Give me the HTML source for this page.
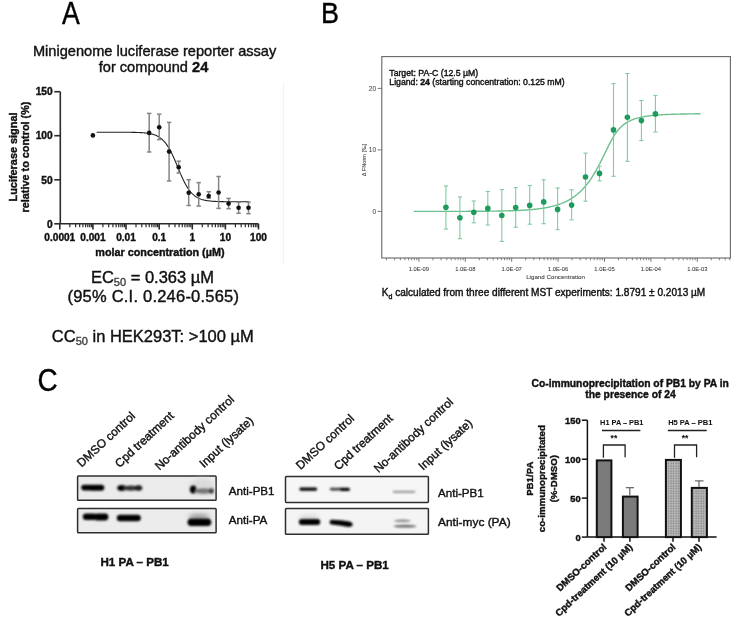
<!DOCTYPE html>
<html><head><meta charset="utf-8"><style>
html,body{margin:0;padding:0;background:#fff;}
svg{display:block;font-family:"Liberation Sans", sans-serif;filter:blur(0.4px);}

</style></head><body>
<svg width="733" height="617" viewBox="0 0 733 617">
<rect width="733" height="617" fill="#fff"/>
<text transform="translate(61.9,23.8) scale(0.86,1)" font-size="31" fill="#000" stroke="#000" stroke-width="0.4">A</text>
<text x="154.6" y="55.8" font-size="14.6" text-anchor="middle" fill="#111" stroke="#111" stroke-width="0.4">Minigenome luciferase reporter assay</text>
<text x="153.5" y="71.6" font-size="14.6" text-anchor="middle" fill="#111" stroke="#111" stroke-width="0.4">for compound <tspan font-weight="bold">24</tspan></text>
<line x1="283.5" y1="82" x2="283.5" y2="265" stroke="#f2f2f2" stroke-width="1"/>
<g stroke="#2a2a2a" stroke-width="1.6" fill="none">
<line x1="60.3" y1="91.7" x2="60.3" y2="223.8"/>
<line x1="54.3" y1="223.8" x2="60.3" y2="223.8"/>
<line x1="54.3" y1="179.8" x2="60.3" y2="179.8"/>
<line x1="54.3" y1="135.7" x2="60.3" y2="135.7"/>
<line x1="54.3" y1="91.7" x2="60.3" y2="91.7"/>
<line x1="60.3" y1="223.8" x2="258.5" y2="223.8"/>
<line x1="59.8" y1="223.8" x2="59.8" y2="229.4"/>
<line x1="69.8" y1="223.8" x2="69.8" y2="227.2" stroke-width="1.2"/>
<line x1="75.6" y1="223.8" x2="75.6" y2="227.2" stroke-width="1.2"/>
<line x1="79.7" y1="223.8" x2="79.7" y2="227.2" stroke-width="1.2"/>
<line x1="82.9" y1="223.8" x2="82.9" y2="227.2" stroke-width="1.2"/>
<line x1="85.6" y1="223.8" x2="85.6" y2="227.2" stroke-width="1.2"/>
<line x1="87.8" y1="223.8" x2="87.8" y2="227.2" stroke-width="1.2"/>
<line x1="89.7" y1="223.8" x2="89.7" y2="227.2" stroke-width="1.2"/>
<line x1="91.4" y1="223.8" x2="91.4" y2="227.2" stroke-width="1.2"/>
<line x1="92.9" y1="223.8" x2="92.9" y2="229.4"/>
<line x1="102.9" y1="223.8" x2="102.9" y2="227.2" stroke-width="1.2"/>
<line x1="108.7" y1="223.8" x2="108.7" y2="227.2" stroke-width="1.2"/>
<line x1="112.9" y1="223.8" x2="112.9" y2="227.2" stroke-width="1.2"/>
<line x1="116.1" y1="223.8" x2="116.1" y2="227.2" stroke-width="1.2"/>
<line x1="118.7" y1="223.8" x2="118.7" y2="227.2" stroke-width="1.2"/>
<line x1="120.9" y1="223.8" x2="120.9" y2="227.2" stroke-width="1.2"/>
<line x1="122.8" y1="223.8" x2="122.8" y2="227.2" stroke-width="1.2"/>
<line x1="124.5" y1="223.8" x2="124.5" y2="227.2" stroke-width="1.2"/>
<line x1="126.0" y1="223.8" x2="126.0" y2="229.4"/>
<line x1="136.0" y1="223.8" x2="136.0" y2="227.2" stroke-width="1.2"/>
<line x1="141.8" y1="223.8" x2="141.8" y2="227.2" stroke-width="1.2"/>
<line x1="146.0" y1="223.8" x2="146.0" y2="227.2" stroke-width="1.2"/>
<line x1="149.2" y1="223.8" x2="149.2" y2="227.2" stroke-width="1.2"/>
<line x1="151.8" y1="223.8" x2="151.8" y2="227.2" stroke-width="1.2"/>
<line x1="154.0" y1="223.8" x2="154.0" y2="227.2" stroke-width="1.2"/>
<line x1="156.0" y1="223.8" x2="156.0" y2="227.2" stroke-width="1.2"/>
<line x1="157.6" y1="223.8" x2="157.6" y2="227.2" stroke-width="1.2"/>
<line x1="159.2" y1="223.8" x2="159.2" y2="229.4"/>
<line x1="169.1" y1="223.8" x2="169.1" y2="227.2" stroke-width="1.2"/>
<line x1="175.0" y1="223.8" x2="175.0" y2="227.2" stroke-width="1.2"/>
<line x1="179.1" y1="223.8" x2="179.1" y2="227.2" stroke-width="1.2"/>
<line x1="182.3" y1="223.8" x2="182.3" y2="227.2" stroke-width="1.2"/>
<line x1="184.9" y1="223.8" x2="184.9" y2="227.2" stroke-width="1.2"/>
<line x1="187.1" y1="223.8" x2="187.1" y2="227.2" stroke-width="1.2"/>
<line x1="189.1" y1="223.8" x2="189.1" y2="227.2" stroke-width="1.2"/>
<line x1="190.8" y1="223.8" x2="190.8" y2="227.2" stroke-width="1.2"/>
<line x1="192.3" y1="223.8" x2="192.3" y2="229.4"/>
<line x1="202.3" y1="223.8" x2="202.3" y2="227.2" stroke-width="1.2"/>
<line x1="208.1" y1="223.8" x2="208.1" y2="227.2" stroke-width="1.2"/>
<line x1="212.2" y1="223.8" x2="212.2" y2="227.2" stroke-width="1.2"/>
<line x1="215.4" y1="223.8" x2="215.4" y2="227.2" stroke-width="1.2"/>
<line x1="218.1" y1="223.8" x2="218.1" y2="227.2" stroke-width="1.2"/>
<line x1="220.3" y1="223.8" x2="220.3" y2="227.2" stroke-width="1.2"/>
<line x1="222.2" y1="223.8" x2="222.2" y2="227.2" stroke-width="1.2"/>
<line x1="223.9" y1="223.8" x2="223.9" y2="227.2" stroke-width="1.2"/>
<line x1="225.4" y1="223.8" x2="225.4" y2="229.4"/>
<line x1="235.4" y1="223.8" x2="235.4" y2="227.2" stroke-width="1.2"/>
<line x1="241.2" y1="223.8" x2="241.2" y2="227.2" stroke-width="1.2"/>
<line x1="245.3" y1="223.8" x2="245.3" y2="227.2" stroke-width="1.2"/>
<line x1="248.5" y1="223.8" x2="248.5" y2="227.2" stroke-width="1.2"/>
<line x1="251.2" y1="223.8" x2="251.2" y2="227.2" stroke-width="1.2"/>
<line x1="253.4" y1="223.8" x2="253.4" y2="227.2" stroke-width="1.2"/>
<line x1="255.3" y1="223.8" x2="255.3" y2="227.2" stroke-width="1.2"/>
<line x1="257.0" y1="223.8" x2="257.0" y2="227.2" stroke-width="1.2"/>
<line x1="258.5" y1="223.8" x2="258.5" y2="229.4"/>
</g>
<g font-size="10.2" font-weight="bold" fill="#111" text-anchor="end" stroke="#111" stroke-width="0.4">
<text x="52.7" y="227.5">0</text>
<text x="52.7" y="183.5">50</text>
<text x="52.7" y="139.4">100</text>
<text x="52.7" y="95.4">150</text>
</g>
<g font-size="10.1" font-weight="bold" fill="#111" text-anchor="middle" stroke="#111" stroke-width="0.4">
<text x="59.8" y="240.6">0.0001</text>
<text x="92.9" y="240.6">0.001</text>
<text x="126.0" y="240.6">0.01</text>
<text x="159.2" y="240.6">0.1</text>
<text x="192.3" y="240.6">1</text>
<text x="225.4" y="240.6">10</text>
<text x="258.5" y="240.6">100</text>
</g>
<text x="159.9" y="255.6" font-size="10.8" font-weight="bold" text-anchor="middle" fill="#111" stroke="#111" stroke-width="0.4">molar concentration (µM)</text>
<text transform="translate(17,157) rotate(-90)" font-size="10.9" font-weight="bold" text-anchor="middle" fill="#111" stroke="#111" stroke-width="0.4">Luciferase signal</text>
<text transform="translate(28.5,157) rotate(-90)" font-size="10.85" font-weight="bold" text-anchor="middle" fill="#111" stroke="#111" stroke-width="0.4">relative to control (%)</text>
<polyline points="96.69,132.21 97.40,132.21 98.10,132.21 98.80,132.21 99.50,132.21 100.20,132.21 100.90,132.21 101.61,132.21 102.31,132.21 103.01,132.21 103.71,132.21 104.41,132.21 105.12,132.21 105.82,132.21 106.52,132.21 107.22,132.21 107.92,132.21 108.62,132.22 109.33,132.22 110.03,132.22 110.73,132.22 111.43,132.22 112.13,132.22 112.83,132.22 113.54,132.22 114.24,132.22 114.94,132.22 115.64,132.22 116.34,132.22 117.05,132.23 117.75,132.23 118.45,132.23 119.15,132.23 119.85,132.23 120.55,132.24 121.26,132.24 121.96,132.24 122.66,132.24 123.36,132.25 124.06,132.25 124.77,132.25 125.47,132.26 126.17,132.26 126.87,132.27 127.57,132.28 128.27,132.28 128.98,132.29 129.68,132.30 130.38,132.31 131.08,132.32 131.78,132.33 132.49,132.34 133.19,132.35 133.89,132.37 134.59,132.38 135.29,132.40 135.99,132.42 136.70,132.44 137.40,132.47 138.10,132.49 138.80,132.52 139.50,132.55 140.20,132.59 140.91,132.63 141.61,132.67 142.31,132.71 143.01,132.77 143.71,132.82 144.42,132.88 145.12,132.95 145.82,133.03 146.52,133.11 147.22,133.20 147.92,133.30 148.63,133.41 149.33,133.53 150.03,133.66 150.73,133.81 151.43,133.97 152.14,134.14 152.84,134.34 153.54,134.55 154.24,134.78 154.94,135.03 155.64,135.30 156.35,135.61 157.05,135.94 157.75,136.30 158.45,136.69 159.15,137.11 159.85,137.58 160.56,138.08 161.26,138.63 161.96,139.22 162.66,139.86 163.36,140.55 164.07,141.29 164.77,142.09 165.47,142.95 166.17,143.86 166.87,144.84 167.57,145.88 168.28,146.98 168.98,148.15 169.68,149.38 170.38,150.67 171.08,152.03 171.79,153.44 172.49,154.91 173.19,156.42 173.89,157.98 174.59,159.59 175.29,161.22 176.00,162.89 176.70,164.57 177.40,166.26 178.10,167.96 178.80,169.65 179.50,171.33 180.21,172.99 180.91,174.62 181.61,176.22 182.31,177.77 183.01,179.29 183.72,180.74 184.42,182.15 185.12,183.49 185.82,184.78 186.52,186.00 187.22,187.16 187.93,188.26 188.63,189.29 189.33,190.26 190.03,191.16 190.73,192.01 191.44,192.80 192.14,193.54 192.84,194.22 193.54,194.86 194.24,195.44 194.94,195.98 195.65,196.48 196.35,196.94 197.05,197.36 197.75,197.75 198.45,198.10 199.16,198.43 199.86,198.73 200.56,199.00 201.26,199.25 201.96,199.48 202.66,199.68 203.37,199.87 204.07,200.05 204.77,200.21 205.47,200.35 206.17,200.48 206.87,200.60 207.58,200.71 208.28,200.81 208.98,200.90 209.68,200.98 210.38,201.05 211.09,201.12 211.79,201.18 212.49,201.24 213.19,201.29 213.89,201.33 214.59,201.37 215.30,201.41 216.00,201.45 216.70,201.48 217.40,201.51 218.10,201.53 218.81,201.55 219.51,201.58 220.21,201.60 220.91,201.61 221.61,201.63 222.31,201.64 223.02,201.66 223.72,201.67 224.42,201.68 225.12,201.69 225.82,201.70 226.52,201.71 227.23,201.71 227.93,201.72 228.63,201.72 229.33,201.73 230.03,201.74 230.74,201.74 231.44,201.74 232.14,201.75 232.84,201.75 233.54,201.75 234.24,201.76 234.95,201.76 235.65,201.76 236.35,201.76 237.05,201.77 237.75,201.77 238.46,201.77 239.16,201.77 239.86,201.77 240.56,201.77 241.26,201.77 241.96,201.77 242.67,201.78 243.37,201.78 244.07,201.78 244.77,201.78 245.47,201.78 246.17,201.78 246.88,201.78 247.58,201.78 248.28,201.78 248.98,201.78" fill="none" stroke="#222" stroke-width="1.1"/>
<g stroke="#858585" stroke-width="1.5" fill="none">
<line x1="149.2" y1="113.4" x2="149.2" y2="152.0"/><line x1="147.0" y1="113.4" x2="151.4" y2="113.4"/><line x1="147.0" y1="152.0" x2="151.4" y2="152.0"/>
<line x1="159.2" y1="114.2" x2="159.2" y2="139.6"/><line x1="157.0" y1="114.2" x2="161.4" y2="114.2"/><line x1="157.0" y1="139.6" x2="161.4" y2="139.6"/>
<line x1="169.1" y1="122.4" x2="169.1" y2="181.0"/><line x1="166.9" y1="122.4" x2="171.3" y2="122.4"/><line x1="166.9" y1="181.0" x2="171.3" y2="181.0"/>
<line x1="178.7" y1="161.2" x2="178.7" y2="173.0"/><line x1="176.5" y1="161.2" x2="180.9" y2="161.2"/><line x1="176.5" y1="173.0" x2="180.9" y2="173.0"/>
<line x1="188.7" y1="179.7" x2="188.7" y2="205.5"/><line x1="186.5" y1="179.7" x2="190.9" y2="179.7"/><line x1="186.5" y1="205.5" x2="190.9" y2="205.5"/>
<line x1="198.7" y1="182.6" x2="198.7" y2="206.0"/><line x1="196.5" y1="182.6" x2="200.9" y2="182.6"/><line x1="196.5" y1="206.0" x2="200.9" y2="206.0"/>
<line x1="208.7" y1="191.7" x2="208.7" y2="198.2"/><line x1="206.5" y1="191.7" x2="210.9" y2="191.7"/><line x1="206.5" y1="198.2" x2="210.9" y2="198.2"/>
<line x1="218.6" y1="176.5" x2="218.6" y2="208.4"/><line x1="216.4" y1="176.5" x2="220.8" y2="176.5"/><line x1="216.4" y1="208.4" x2="220.8" y2="208.4"/>
<line x1="228.6" y1="198.4" x2="228.6" y2="208.7"/><line x1="226.4" y1="198.4" x2="230.8" y2="198.4"/><line x1="226.4" y1="208.7" x2="230.8" y2="208.7"/>
<line x1="238.6" y1="202.2" x2="238.6" y2="213.3"/><line x1="236.4" y1="202.2" x2="240.8" y2="202.2"/><line x1="236.4" y1="213.3" x2="240.8" y2="213.3"/>
<line x1="248.5" y1="202.2" x2="248.5" y2="213.7"/><line x1="246.3" y1="202.2" x2="250.7" y2="202.2"/><line x1="246.3" y1="213.7" x2="250.7" y2="213.7"/>
</g><g fill="#111">
<circle cx="92.9" cy="135.4" r="2.3"/>
<circle cx="149.2" cy="132.9" r="2.3"/>
<circle cx="159.2" cy="127.2" r="2.3"/>
<circle cx="169.1" cy="151.6" r="2.3"/>
<circle cx="178.7" cy="167.3" r="2.3"/>
<circle cx="188.7" cy="192.7" r="2.3"/>
<circle cx="198.7" cy="194.2" r="2.3"/>
<circle cx="208.7" cy="196.0" r="2.3"/>
<circle cx="218.6" cy="192.5" r="2.3"/>
<circle cx="228.6" cy="203.6" r="2.3"/>
<circle cx="238.6" cy="207.8" r="2.3"/>
<circle cx="248.5" cy="207.8" r="2.3"/>
</g>
<text x="152.5" y="282.5" font-size="16.5" text-anchor="middle" fill="#111" stroke="#111" stroke-width="0.4">EC<tspan font-size="11" dy="3" fill="#444" stroke="#444">50</tspan><tspan dy="-3"> = 0.363 µM</tspan></text>
<text x="67.5" y="301.7" font-size="16.5" textLength="171.5" lengthAdjust="spacing" fill="#111" stroke="#111" stroke-width="0.4">(95% C.I. 0.246-0.565)</text>
<text x="152.8" y="341.6" font-size="16.5" text-anchor="middle" fill="#111" stroke="#111" stroke-width="0.4">CC<tspan font-size="11" dy="3" fill="#444" stroke="#444">50</tspan><tspan dy="-3"> in HEK293T: &gt;100 µM</tspan></text>
<text transform="translate(321,22.6) scale(0.9,1)" font-size="30" fill="#000" stroke="#000" stroke-width="0.4">B</text>
<rect x="381.8" y="56.6" width="348.6" height="201.4" fill="none" stroke="#666" stroke-width="1.1"/>
<g stroke="#666" stroke-width="0.9">
<line x1="377.6" y1="211.4" x2="381.8" y2="211.4"/>
<line x1="377.6" y1="149.9" x2="381.8" y2="149.9"/>
<line x1="377.6" y1="88.4" x2="381.8" y2="88.4"/>
<line x1="386.5" y1="258" x2="386.5" y2="260.3" stroke-width="0.8"/>
<line x1="394.6" y1="258" x2="394.6" y2="260.3" stroke-width="0.8"/>
<line x1="400.4" y1="258" x2="400.4" y2="260.3" stroke-width="0.8"/>
<line x1="404.9" y1="258" x2="404.9" y2="260.3" stroke-width="0.8"/>
<line x1="408.6" y1="258" x2="408.6" y2="260.3" stroke-width="0.8"/>
<line x1="411.7" y1="258" x2="411.7" y2="260.3" stroke-width="0.8"/>
<line x1="414.4" y1="258" x2="414.4" y2="260.3" stroke-width="0.8"/>
<line x1="416.8" y1="258" x2="416.8" y2="260.3" stroke-width="0.8"/>
<line x1="418.9" y1="258" x2="418.9" y2="261.8"/>
<line x1="432.9" y1="258" x2="432.9" y2="260.3" stroke-width="0.8"/>
<line x1="441.0" y1="258" x2="441.0" y2="260.3" stroke-width="0.8"/>
<line x1="446.8" y1="258" x2="446.8" y2="260.3" stroke-width="0.8"/>
<line x1="451.3" y1="258" x2="451.3" y2="260.3" stroke-width="0.8"/>
<line x1="455.0" y1="258" x2="455.0" y2="260.3" stroke-width="0.8"/>
<line x1="458.1" y1="258" x2="458.1" y2="260.3" stroke-width="0.8"/>
<line x1="460.8" y1="258" x2="460.8" y2="260.3" stroke-width="0.8"/>
<line x1="463.2" y1="258" x2="463.2" y2="260.3" stroke-width="0.8"/>
<line x1="465.3" y1="258" x2="465.3" y2="261.8"/>
<line x1="479.3" y1="258" x2="479.3" y2="260.3" stroke-width="0.8"/>
<line x1="487.4" y1="258" x2="487.4" y2="260.3" stroke-width="0.8"/>
<line x1="493.2" y1="258" x2="493.2" y2="260.3" stroke-width="0.8"/>
<line x1="497.7" y1="258" x2="497.7" y2="260.3" stroke-width="0.8"/>
<line x1="501.4" y1="258" x2="501.4" y2="260.3" stroke-width="0.8"/>
<line x1="504.5" y1="258" x2="504.5" y2="260.3" stroke-width="0.8"/>
<line x1="507.2" y1="258" x2="507.2" y2="260.3" stroke-width="0.8"/>
<line x1="509.6" y1="258" x2="509.6" y2="260.3" stroke-width="0.8"/>
<line x1="511.7" y1="258" x2="511.7" y2="261.8"/>
<line x1="525.7" y1="258" x2="525.7" y2="260.3" stroke-width="0.8"/>
<line x1="533.8" y1="258" x2="533.8" y2="260.3" stroke-width="0.8"/>
<line x1="539.6" y1="258" x2="539.6" y2="260.3" stroke-width="0.8"/>
<line x1="544.1" y1="258" x2="544.1" y2="260.3" stroke-width="0.8"/>
<line x1="547.8" y1="258" x2="547.8" y2="260.3" stroke-width="0.8"/>
<line x1="550.9" y1="258" x2="550.9" y2="260.3" stroke-width="0.8"/>
<line x1="553.6" y1="258" x2="553.6" y2="260.3" stroke-width="0.8"/>
<line x1="556.0" y1="258" x2="556.0" y2="260.3" stroke-width="0.8"/>
<line x1="558.1" y1="258" x2="558.1" y2="261.8"/>
<line x1="572.1" y1="258" x2="572.1" y2="260.3" stroke-width="0.8"/>
<line x1="580.2" y1="258" x2="580.2" y2="260.3" stroke-width="0.8"/>
<line x1="586.0" y1="258" x2="586.0" y2="260.3" stroke-width="0.8"/>
<line x1="590.5" y1="258" x2="590.5" y2="260.3" stroke-width="0.8"/>
<line x1="594.2" y1="258" x2="594.2" y2="260.3" stroke-width="0.8"/>
<line x1="597.3" y1="258" x2="597.3" y2="260.3" stroke-width="0.8"/>
<line x1="600.0" y1="258" x2="600.0" y2="260.3" stroke-width="0.8"/>
<line x1="602.4" y1="258" x2="602.4" y2="260.3" stroke-width="0.8"/>
<line x1="604.5" y1="258" x2="604.5" y2="261.8"/>
<line x1="618.5" y1="258" x2="618.5" y2="260.3" stroke-width="0.8"/>
<line x1="626.6" y1="258" x2="626.6" y2="260.3" stroke-width="0.8"/>
<line x1="632.4" y1="258" x2="632.4" y2="260.3" stroke-width="0.8"/>
<line x1="636.9" y1="258" x2="636.9" y2="260.3" stroke-width="0.8"/>
<line x1="640.6" y1="258" x2="640.6" y2="260.3" stroke-width="0.8"/>
<line x1="643.7" y1="258" x2="643.7" y2="260.3" stroke-width="0.8"/>
<line x1="646.4" y1="258" x2="646.4" y2="260.3" stroke-width="0.8"/>
<line x1="648.8" y1="258" x2="648.8" y2="260.3" stroke-width="0.8"/>
<line x1="650.9" y1="258" x2="650.9" y2="261.8"/>
<line x1="664.9" y1="258" x2="664.9" y2="260.3" stroke-width="0.8"/>
<line x1="673.0" y1="258" x2="673.0" y2="260.3" stroke-width="0.8"/>
<line x1="678.8" y1="258" x2="678.8" y2="260.3" stroke-width="0.8"/>
<line x1="683.3" y1="258" x2="683.3" y2="260.3" stroke-width="0.8"/>
<line x1="687.0" y1="258" x2="687.0" y2="260.3" stroke-width="0.8"/>
<line x1="690.1" y1="258" x2="690.1" y2="260.3" stroke-width="0.8"/>
<line x1="692.8" y1="258" x2="692.8" y2="260.3" stroke-width="0.8"/>
<line x1="695.2" y1="258" x2="695.2" y2="260.3" stroke-width="0.8"/>
<line x1="697.3" y1="258" x2="697.3" y2="261.8"/>
<line x1="711.3" y1="258" x2="711.3" y2="260.3" stroke-width="0.8"/>
<line x1="719.4" y1="258" x2="719.4" y2="260.3" stroke-width="0.8"/>
<line x1="725.2" y1="258" x2="725.2" y2="260.3" stroke-width="0.8"/>
<line x1="729.7" y1="258" x2="729.7" y2="260.3" stroke-width="0.8"/>
</g>
<g font-size="6.6" fill="#444" text-anchor="end" stroke="#444" stroke-width="0.05">
<text x="376.2" y="213.8">0</text>
<text x="376.2" y="152.3">10</text>
<text x="376.2" y="90.8">20</text>
</g><g font-size="5.8" fill="#333" text-anchor="middle" stroke="#333" stroke-width="0.05">
<text x="418.9" y="270.8">1.0E-09</text>
<text x="465.3" y="270.8">1.0E-08</text>
<text x="511.7" y="270.8">1.0E-07</text>
<text x="558.1" y="270.8">1.0E-06</text>
<text x="604.5" y="270.8">1.0E-05</text>
<text x="650.9" y="270.8">1.0E-04</text>
<text x="697.3" y="270.8">1.0E-03</text>
</g>
<text x="555.6" y="278.6" font-size="6.2" text-anchor="middle" fill="#333" stroke="#333" stroke-width="0.05">Ligand Concentration</text>
<text transform="translate(365.6,160) rotate(-90)" font-size="5.6" text-anchor="middle" fill="#333" stroke="#333" stroke-width="0.05">Δ FNorm [‰]</text>
<text x="389.3" y="75.7" font-size="8.7" fill="#111" stroke="#111" stroke-width="0.4">Target: PA-C (12.5 µM)</text>
<text x="389.3" y="85.4" font-size="8.7" fill="#111" stroke="#111" stroke-width="0.4">Ligand: <tspan font-weight="bold">24</tspan> (starting concentration: 0.125 mM)</text>
<text x="381.7" y="296.3" font-size="10.08" fill="#111" stroke="#111" stroke-width="0.4">K<tspan font-size="7" dy="2.5">d</tspan><tspan dy="-2.5"> calculated from three different MST experiments: 1.8791 ± 0.2013 µM</tspan></text>
<polyline points="413.70,211.39 414.63,211.39 415.56,211.39 416.49,211.39 417.42,211.39 418.34,211.39 419.27,211.39 420.20,211.39 421.13,211.39 422.06,211.39 422.98,211.39 423.91,211.39 424.84,211.39 425.77,211.39 426.70,211.39 427.62,211.39 428.55,211.39 429.48,211.39 430.41,211.39 431.34,211.39 432.26,211.39 433.19,211.39 434.12,211.39 435.05,211.38 435.98,211.38 436.90,211.38 437.83,211.38 438.76,211.38 439.69,211.38 440.62,211.38 441.54,211.38 442.47,211.38 443.40,211.38 444.33,211.38 445.26,211.37 446.18,211.37 447.11,211.37 448.04,211.37 448.97,211.37 449.90,211.37 450.82,211.37 451.75,211.37 452.68,211.36 453.61,211.36 454.54,211.36 455.46,211.36 456.39,211.36 457.32,211.35 458.25,211.35 459.18,211.35 460.10,211.35 461.03,211.34 461.96,211.34 462.89,211.34 463.82,211.34 464.74,211.33 465.67,211.33 466.60,211.33 467.53,211.32 468.46,211.32 469.38,211.32 470.31,211.31 471.24,211.31 472.17,211.30 473.10,211.30 474.02,211.30 474.95,211.29 475.88,211.29 476.81,211.28 477.74,211.27 478.66,211.27 479.59,211.26 480.52,211.26 481.45,211.25 482.38,211.24 483.30,211.23 484.23,211.23 485.16,211.22 486.09,211.21 487.02,211.20 487.94,211.19 488.87,211.18 489.80,211.17 490.73,211.16 491.66,211.15 492.58,211.14 493.51,211.12 494.44,211.11 495.37,211.10 496.30,211.08 497.22,211.07 498.15,211.05 499.08,211.04 500.01,211.02 500.94,211.00 501.86,210.98 502.79,210.96 503.72,210.94 504.65,210.92 505.58,210.90 506.50,210.87 507.43,210.85 508.36,210.82 509.29,210.80 510.22,210.77 511.14,210.74 512.07,210.71 513.00,210.68 513.93,210.64 514.86,210.61 515.78,210.57 516.71,210.53 517.64,210.49 518.57,210.45 519.50,210.40 520.42,210.35 521.35,210.30 522.28,210.25 523.21,210.20 524.14,210.14 525.06,210.08 525.99,210.02 526.92,209.96 527.85,209.89 528.78,209.82 529.70,209.74 530.63,209.66 531.56,209.58 532.49,209.50 533.42,209.41 534.34,209.31 535.27,209.22 536.20,209.11 537.13,209.01 538.06,208.89 538.98,208.78 539.91,208.65 540.84,208.52 541.77,208.39 542.70,208.25 543.62,208.10 544.55,207.95 545.48,207.78 546.41,207.61 547.34,207.44 548.26,207.25 549.19,207.06 550.12,206.85 551.05,206.64 551.98,206.42 552.90,206.18 553.83,205.94 554.76,205.69 555.69,205.42 556.62,205.14 557.54,204.85 558.47,204.54 559.40,204.22 560.33,203.89 561.26,203.54 562.18,203.17 563.11,202.79 564.04,202.39 564.97,201.97 565.90,201.53 566.82,201.08 567.75,200.60 568.68,200.10 569.61,199.58 570.54,199.03 571.46,198.46 572.39,197.86 573.32,197.24 574.25,196.59 575.18,195.91 576.10,195.20 577.03,194.47 577.96,193.69 578.89,192.89 579.82,192.05 580.74,191.17 581.67,190.26 582.60,189.31 583.53,188.32 584.46,187.28 585.38,186.21 586.31,185.09 587.24,183.93 588.17,182.72 589.10,181.47 590.02,180.16 590.95,178.81 591.88,177.42 592.81,175.97 593.74,174.47 594.66,172.93 595.59,171.33 596.52,169.69 597.45,168.01 598.38,166.28 599.30,164.51 600.23,162.70 601.16,160.86 602.09,158.99 603.02,157.10 603.94,155.19 604.87,153.27 605.80,151.36 606.73,149.45 607.66,147.57 608.58,145.71 609.51,143.89 610.44,142.11 611.37,140.40 612.30,138.74 613.22,137.16 614.15,135.66 615.08,134.23 616.01,132.88 616.94,131.61 617.86,130.42 618.79,129.31 619.72,128.28 620.65,127.32 621.58,126.42 622.50,125.59 623.43,124.83 624.36,124.11 625.29,123.45 626.22,122.84 627.14,122.27 628.07,121.74 629.00,121.25 629.93,120.79 630.86,120.37 631.78,119.97 632.71,119.60 633.64,119.26 634.57,118.94 635.50,118.64 636.42,118.36 637.35,118.10 638.28,117.85 639.21,117.62 640.14,117.41 641.06,117.20 641.99,117.01 642.92,116.84 643.85,116.67 644.78,116.51 645.70,116.36 646.63,116.22 647.56,116.09 648.49,115.96 649.42,115.84 650.34,115.73 651.27,115.62 652.20,115.52 653.13,115.43 654.06,115.34 654.98,115.26 655.91,115.18 656.84,115.10 657.77,115.03 658.70,114.96 659.62,114.89 660.55,114.83 661.48,114.77 662.41,114.72 663.34,114.67 664.26,114.62 665.19,114.57 666.12,114.52 667.05,114.48 667.98,114.44 668.90,114.40 669.83,114.36 670.76,114.33 671.69,114.30 672.62,114.26 673.54,114.23 674.47,114.21 675.40,114.18 676.33,114.15 677.26,114.13 678.18,114.10 679.11,114.08 680.04,114.06 680.97,114.04 681.90,114.02 682.82,114.00 683.75,113.98 684.68,113.97 685.61,113.95 686.54,113.93 687.46,113.92 688.39,113.91 689.32,113.89 690.25,113.88 691.18,113.87 692.10,113.86 693.03,113.85 693.96,113.83 694.89,113.82 695.82,113.82 696.74,113.81 697.67,113.80 698.60,113.79 699.53,113.78 700.46,113.77" fill="none" stroke="#6cc08e" stroke-width="1.4"/>
<g stroke="#7fcc9f" stroke-width="1.1" fill="none">
<line x1="445.9" y1="186.0" x2="445.9" y2="229.1"/><line x1="443.8" y1="186.0" x2="448.0" y2="186.0"/><line x1="443.8" y1="229.1" x2="448.0" y2="229.1"/>
<line x1="459.9" y1="196.9" x2="459.9" y2="238.7"/><line x1="457.8" y1="196.9" x2="462.0" y2="196.9"/><line x1="457.8" y1="238.7" x2="462.0" y2="238.7"/>
<line x1="473.8" y1="201.0" x2="473.8" y2="222.8"/><line x1="471.7" y1="201.0" x2="475.9" y2="201.0"/><line x1="471.7" y1="222.8" x2="475.9" y2="222.8"/>
<line x1="487.8" y1="191.5" x2="487.8" y2="225.0"/><line x1="485.7" y1="191.5" x2="489.9" y2="191.5"/><line x1="485.7" y1="225.0" x2="489.9" y2="225.0"/>
<line x1="501.8" y1="189.5" x2="501.8" y2="241.4"/><line x1="499.7" y1="189.5" x2="503.9" y2="189.5"/><line x1="499.7" y1="241.4" x2="503.9" y2="241.4"/>
<line x1="515.7" y1="187.6" x2="515.7" y2="227.2"/><line x1="513.6" y1="187.6" x2="517.8" y2="187.6"/><line x1="513.6" y1="227.2" x2="517.8" y2="227.2"/>
<line x1="529.7" y1="185.5" x2="529.7" y2="224.2"/><line x1="527.6" y1="185.5" x2="531.8" y2="185.5"/><line x1="527.6" y1="224.2" x2="531.8" y2="224.2"/>
<line x1="543.7" y1="179.8" x2="543.7" y2="223.7"/><line x1="541.6" y1="179.8" x2="545.8" y2="179.8"/><line x1="541.6" y1="223.7" x2="545.8" y2="223.7"/>
<line x1="557.6" y1="188.0" x2="557.6" y2="229.7"/><line x1="555.5" y1="188.0" x2="559.7" y2="188.0"/><line x1="555.5" y1="229.7" x2="559.7" y2="229.7"/>
<line x1="571.6" y1="189.8" x2="571.6" y2="219.8"/><line x1="569.5" y1="189.8" x2="573.7" y2="189.8"/><line x1="569.5" y1="219.8" x2="573.7" y2="219.8"/>
<line x1="585.5" y1="153.1" x2="585.5" y2="201.2"/><line x1="583.4" y1="153.1" x2="587.6" y2="153.1"/><line x1="583.4" y1="201.2" x2="587.6" y2="201.2"/>
<line x1="599.5" y1="166.3" x2="599.5" y2="180.9"/><line x1="597.4" y1="166.3" x2="601.6" y2="166.3"/><line x1="597.4" y1="180.9" x2="601.6" y2="180.9"/>
<line x1="613.5" y1="83.6" x2="613.5" y2="176.3"/><line x1="611.4" y1="83.6" x2="615.6" y2="83.6"/><line x1="611.4" y1="176.3" x2="615.6" y2="176.3"/>
<line x1="627.4" y1="73.5" x2="627.4" y2="161.3"/><line x1="625.3" y1="73.5" x2="629.5" y2="73.5"/><line x1="625.3" y1="161.3" x2="629.5" y2="161.3"/>
<line x1="641.4" y1="100.5" x2="641.4" y2="140.6"/><line x1="639.3" y1="100.5" x2="643.5" y2="100.5"/><line x1="639.3" y1="140.6" x2="643.5" y2="140.6"/>
<line x1="655.4" y1="95.4" x2="655.4" y2="132.0"/><line x1="653.3" y1="95.4" x2="657.5" y2="95.4"/><line x1="653.3" y1="132.0" x2="657.5" y2="132.0"/>
</g><g fill="#1e9a5c">
<circle cx="445.9" cy="207.3" r="2.8"/>
<circle cx="459.9" cy="217.7" r="2.8"/>
<circle cx="473.8" cy="212.2" r="2.8"/>
<circle cx="487.8" cy="208.4" r="2.8"/>
<circle cx="501.8" cy="215.5" r="2.8"/>
<circle cx="515.7" cy="207.6" r="2.8"/>
<circle cx="529.7" cy="205.4" r="2.8"/>
<circle cx="543.7" cy="201.9" r="2.8"/>
<circle cx="557.6" cy="209.4" r="2.8"/>
<circle cx="571.6" cy="205.1" r="2.8"/>
<circle cx="585.5" cy="177.0" r="2.8"/>
<circle cx="599.5" cy="173.4" r="2.8"/>
<circle cx="613.5" cy="129.9" r="2.8"/>
<circle cx="627.4" cy="117.2" r="2.8"/>
<circle cx="641.4" cy="120.6" r="2.8"/>
<circle cx="655.4" cy="113.9" r="2.8"/>
</g>
<text transform="translate(37.6,390.5) scale(0.9,1)" font-size="31" fill="#000" stroke="#000" stroke-width="0.4">C</text>
<text transform="translate(81.4,467.8) rotate(-43)" font-size="11.9" text-anchor="start" fill="#111" stroke="#111" stroke-width="0.4">DMSO control</text>
<text transform="translate(119.5,468.2) rotate(-43)" font-size="11.9" text-anchor="start" fill="#111" stroke="#111" stroke-width="0.4">Cpd treatment</text>
<text transform="translate(159.5,470.8) rotate(-43)" font-size="11.9" text-anchor="start" fill="#111" stroke="#111" stroke-width="0.4">No-antibody control</text>
<text transform="translate(204.0,468.3) rotate(-43)" font-size="11.9" text-anchor="start" fill="#111" stroke="#111" stroke-width="0.4">Input (lysate)</text>
<text transform="translate(300.4,470.3) rotate(-43)" font-size="11.9" text-anchor="start" fill="#111" stroke="#111" stroke-width="0.4">DMSO control</text>
<text transform="translate(338.5,470.7) rotate(-43)" font-size="11.9" text-anchor="start" fill="#111" stroke="#111" stroke-width="0.4">Cpd treatment</text>
<text transform="translate(378.5,473.3) rotate(-43)" font-size="11.9" text-anchor="start" fill="#111" stroke="#111" stroke-width="0.4">No-antibody control</text>
<text transform="translate(423.0,470.8) rotate(-43)" font-size="11.9" text-anchor="start" fill="#111" stroke="#111" stroke-width="0.4">Input (lysate)</text>
<defs><filter id="bl" x="-20%" y="-50%" width="140%" height="200%"><feGaussianBlur stdDeviation="0.9"/></filter><filter id="bl3" x="-20%" y="-100%" width="140%" height="300%"><feGaussianBlur stdDeviation="0.6"/></filter><filter id="bl2" x="-20%" y="-50%" width="140%" height="200%"><feGaussianBlur stdDeviation="2"/></filter><pattern id="dots" width="2.5" height="2.5" patternUnits="userSpaceOnUse"><rect width="2.5" height="2.5" fill="#b6b6b6"/><rect x="0.5" y="0.5" width="1.2" height="1.2" fill="#7a7a7a"/></pattern></defs>
<rect x="77.6" y="476.1" width="138.5" height="24.099999999999966" rx="0.8" fill="#ebebeb" stroke="#2e2e2e" stroke-width="1.5"/>
<rect x="77.6" y="508.5" width="138.5" height="24.299999999999955" rx="0.8" fill="#ececec" stroke="#2e2e2e" stroke-width="1.5"/>
<rect x="285.5" y="476.5" width="142.89999999999998" height="25.899999999999977" rx="0.8" fill="#f6f6f6" stroke="#2e2e2e" stroke-width="1.5"/>
<rect x="285.5" y="508.5" width="142.89999999999998" height="25.700000000000045" rx="0.8" fill="#f4f4f4" stroke="#2e2e2e" stroke-width="1.5"/>
<g filter="url(#bl2)">
<ellipse cx="202" cy="487" rx="12" ry="9" fill="#d4d4d4" opacity="0.7"/>
<ellipse cx="309" cy="517" rx="10" ry="2" fill="#bbb" opacity="0.6"/>
<ellipse cx="199" cy="516.5" rx="11" ry="2.2" fill="#777" opacity="0.8"/>
</g><g filter="url(#bl)">
<rect x="81.2" y="484.80" width="11.80" height="5.6" rx="2.80" fill="#000" opacity="1"/>
<rect x="89" y="484.80" width="15.30" height="6.0" rx="3.00" fill="#000" opacity="1"/>
<ellipse cx="121.8" cy="488.0" rx="4.6" ry="3.0" fill="#000" opacity="1"/>
<ellipse cx="131" cy="488.2" rx="8" ry="2.6" fill="#333" opacity="1"/>
<ellipse cx="138.5" cy="488.0" rx="3.8" ry="2.7" fill="#1a1a1a" opacity="1"/>
<ellipse cx="193.2" cy="489.4" rx="3.3" ry="4.0" fill="#000" opacity="1"/>
<ellipse cx="203.5" cy="491" rx="8.5" ry="2.8" fill="#777" opacity="1"/>
<ellipse cx="211.3" cy="491" rx="2.6" ry="2.8" fill="#444" opacity="1"/>
<rect x="82.8" y="513.50" width="14.20" height="6.6" rx="3.30" fill="#000" opacity="1"/>
<rect x="94" y="513.60" width="14.40" height="6.8" rx="3.40" fill="#000" opacity="1"/>
<rect x="116.8" y="514.80" width="24.00" height="6.4" rx="3.20" fill="#000" opacity="1"/>
<rect x="187.5" y="518.40" width="23.80" height="7.6" rx="3.80" fill="#050505" opacity="1"/>
<rect x="299.3" y="487.50" width="17.90" height="3.2" rx="1.60" fill="#000" opacity="1"/>
<rect x="329.8" y="487.70" width="13.20" height="2.8" rx="1.40" fill="#3a3a3a" opacity="1"/>
<rect x="340" y="487.70" width="10.00" height="3.2" rx="1.60" fill="#000" opacity="1"/>
<rect x="392.8" y="490.75" width="22.50" height="2.3" rx="1.15" fill="#9a9a9a" opacity="1"/>
<rect x="298.8" y="519.10" width="21.50" height="6.0" rx="3.00" fill="#000" opacity="1"/>
<path d="M331.5,519.8 Q341,519.8 349.5,521.5 Q353.5,522.8 352.5,525.5 Q351.5,527.3 347,526.8 Q340,525.5 331.5,524.6 Q329.3,524 329.6,522 Q330,519.8 331.5,519.8 Z" fill="#000"/>
<ellipse cx="402.4" cy="520.8" rx="8.5" ry="1.2" fill="#888" opacity="1"/>
<ellipse cx="405" cy="526.2" rx="11.5" ry="1.4" fill="#666" opacity="1"/>
</g>
<g font-size="11.6" fill="#111" stroke="#111" stroke-width="0.4">
<text x="228.8" y="494.5">Anti-PB1</text><text x="228.8" y="523.5">Anti-PA</text>
<text x="438" y="496.8">Anti-PB1</text><text x="438" y="526" textLength="72.6" lengthAdjust="spacingAndGlyphs">Anti-myc (PA)</text>
</g>
<text x="100.5" y="566.2" font-size="11.6" font-weight="bold" fill="#111" stroke="#111" stroke-width="0.4">H1 PA – PB1</text>
<text x="320.5" y="568.6" font-size="11.6" font-weight="bold" fill="#111" stroke="#111" stroke-width="0.4">H5 PA – PB1</text>
<text x="630.2" y="386.6" font-size="10.3" font-weight="bold" text-anchor="middle" fill="#111" stroke="#111" stroke-width="0.4">Co-immunoprecipitation of PB1 by PA in</text>
<text x="630.5" y="398.2" font-size="10.3" font-weight="bold" text-anchor="middle" fill="#111" stroke="#111" stroke-width="0.4">the presence of 24</text>
<g stroke="#111" stroke-width="1.5" fill="none">
<line x1="587.4" y1="420.2" x2="587.4" y2="537.1"/>
<line x1="581.8" y1="537.1" x2="587.4" y2="537.1"/>
<line x1="581.8" y1="498.1" x2="587.4" y2="498.1"/>
<line x1="581.8" y1="459.2" x2="587.4" y2="459.2"/>
<line x1="581.8" y1="420.2" x2="587.4" y2="420.2"/>
<line x1="587.4" y1="537.1" x2="716.6" y2="537.1"/>
<line x1="604" y1="537.1" x2="604" y2="541.8"/>
<line x1="629.9" y1="537.1" x2="629.9" y2="541.8"/>
<line x1="673" y1="537.1" x2="673" y2="541.8"/>
<line x1="699" y1="537.1" x2="699" y2="541.8"/>
</g>
<g font-size="9.3" font-weight="bold" fill="#111" text-anchor="end" stroke="#111" stroke-width="0.4">
<text x="580.6" y="540.5">0</text>
<text x="580.6" y="501.5">50</text>
<text x="580.6" y="462.6">100</text>
<text x="580.6" y="423.6">150</text>
</g>
<text transform="translate(533.2,478.7) rotate(-90)" font-size="9.7" font-weight="bold" text-anchor="middle" fill="#111" stroke="#111" stroke-width="0.4">PB1/PA</text>
<text transform="translate(544.6,478.7) rotate(-90)" font-size="9.7" font-weight="bold" text-anchor="middle" fill="#111" stroke="#111" stroke-width="0.4">co-immunoprecipitated</text>
<text transform="translate(556.6,478.7) rotate(-90)" font-size="9.7" font-weight="bold" text-anchor="middle" fill="#111" stroke="#111" stroke-width="0.4">(%-DMSO)</text>
<rect x="596.8" y="460.4" width="14.600000000000023" height="76.70000000000005" fill="#7b7b7b" stroke="#111" stroke-width="2"/>
<rect x="622.9" y="496.6" width="14.700000000000045" height="40.5" fill="#7b7b7b" stroke="#111" stroke-width="2"/>
<rect x="665.9" y="459.9" width="15.0" height="77.20000000000005" fill="url(#dots)" stroke="#111" stroke-width="2"/>
<rect x="691.8" y="487.9" width="15.100000000000023" height="49.200000000000045" fill="url(#dots)" stroke="#111" stroke-width="2"/>
<g stroke="#111" stroke-width="1.5" fill="none">
<g stroke="#555" stroke-width="1.1"><line x1="629.8" y1="495.5" x2="629.8" y2="487.7"/><line x1="625.8" y1="487.7" x2="634" y2="487.7"/>
<line x1="699" y1="487.1" x2="699" y2="480.9"/><line x1="694.9" y1="480.9" x2="703.5" y2="480.9"/></g>
<g stroke="#222" stroke-width="1.3"><polyline points="603.4,457.7 603.4,445 625.1,445 625.1,457.3"/>
<polyline points="674.5,457.7 674.5,445 696.6,445 696.6,457.3"/>
<line x1="601.9" y1="430.5" x2="640.4" y2="430.5"/><line x1="667.8" y1="430.5" x2="706.7" y2="430.5"/></g>
</g>
<g font-size="7.2" font-weight="bold" fill="#111" stroke="#111" stroke-width="0.05">
<text x="600.1" y="424.8" textLength="43.3" lengthAdjust="spacingAndGlyphs">H1 PA – PB1</text><text x="668.2" y="424.8" textLength="44.2" lengthAdjust="spacingAndGlyphs">H5 PA – PB1</text>
<text x="613.9" y="441.2" font-size="8.5" text-anchor="middle">**</text><text x="685" y="441.2" font-size="8.5" text-anchor="middle">**</text>
</g>
<text transform="translate(607.2,547.8) rotate(-43)" font-size="9.6" font-weight="bold" text-anchor="end" fill="#111" stroke="#111" stroke-width="0.4">DMSO-control</text>
<text transform="translate(633.1,547.8) rotate(-43)" font-size="9.6" font-weight="bold" text-anchor="end" fill="#111" stroke="#111" stroke-width="0.4">Cpd-treatment (10 µM)</text>
<text transform="translate(676.2,547.8) rotate(-43)" font-size="9.6" font-weight="bold" text-anchor="end" fill="#111" stroke="#111" stroke-width="0.4">DMSO-control</text>
<text transform="translate(702.2,547.8) rotate(-43)" font-size="9.6" font-weight="bold" text-anchor="end" fill="#111" stroke="#111" stroke-width="0.4">Cpd-treatment (10 µM)</text>
</svg>
</body></html>
